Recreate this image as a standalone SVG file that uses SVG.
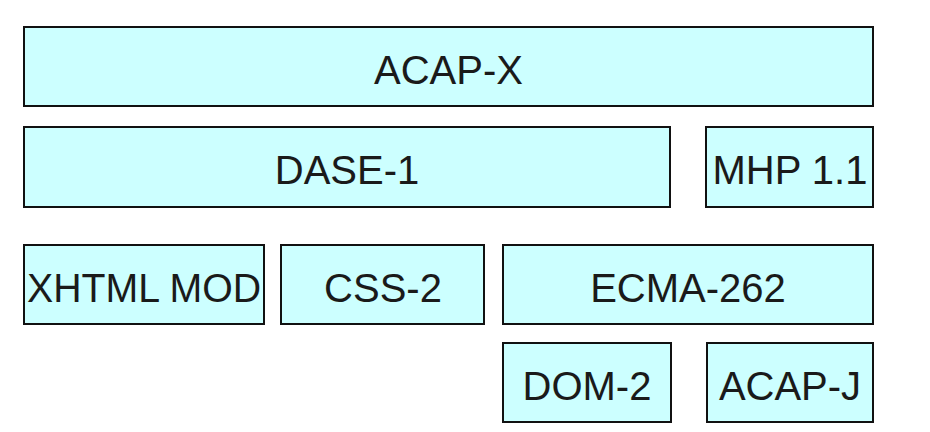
<svg xmlns="http://www.w3.org/2000/svg" width="930" height="432" viewBox="0 0 930 432">
<style>
.box{fill:#ccffff;stroke:#111;stroke-width:2}
.lbl{font-family:"Liberation Sans",Arial,sans-serif;font-size:40px;fill:#1a1a1a;text-anchor:middle}
</style>
<rect width="930" height="432" fill="#ffffff"/>
<g id="acap-x"><rect class="box" x="24" y="27" width="849" height="79"/><text class="lbl" x="448.5" y="84">ACAP-X</text></g>
<g id="dase-1"><rect class="box" x="24" y="127" width="646" height="80"/><text class="lbl" x="347" y="184">DASE-1</text></g>
<g id="mhp"><rect class="box" x="706" y="127" width="167" height="80"/><text class="lbl" x="790" y="184">MHP 1.1</text></g>
<g id="xhtml"><rect class="box" x="24" y="245" width="240" height="79"/><text class="lbl" x="144" y="302" textLength="234" lengthAdjust="spacingAndGlyphs">XHTML MOD</text></g>
<g id="css-2"><rect class="box" x="281" y="245" width="203" height="79"/><text class="lbl" x="383" y="302">CSS-2</text></g>
<g id="ecma"><rect class="box" x="503" y="245" width="370" height="79"/><text class="lbl" x="688" y="302">ECMA-262</text></g>
<g id="dom-2"><rect class="box" x="503" y="343" width="168" height="79"/><text class="lbl" x="587" y="400">DOM-2</text></g>
<g id="acap-j"><rect class="box" x="707" y="343" width="166" height="79"/><text class="lbl" x="790" y="400">ACAP-J</text></g>
<g id="connectors"></g>
</svg>
